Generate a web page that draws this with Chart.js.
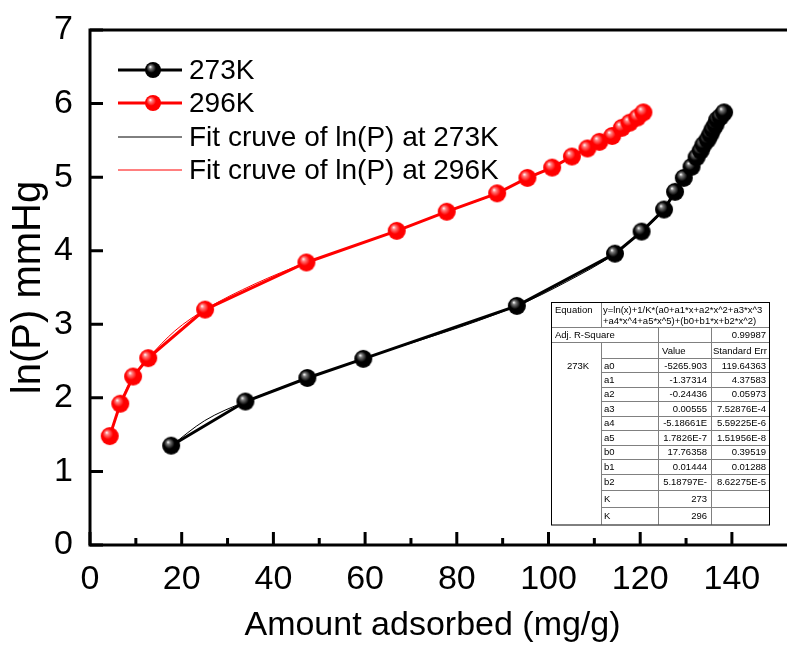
<!DOCTYPE html>
<html>
<head>
<meta charset="utf-8">
<script src="https://cdn.jsdelivr.net/npm/chart.js@4.4.1/dist/chart.umd.min.js"></script>
<style>
  html, body { margin: 0; padding: 0; background: #fff; }
  #wrap { width: 787px; height: 646px; }
</style>
</head>
<body>
<div id="wrap"><canvas id="grafico" width="787" height="646"></canvas></div>
<script>
// Medidas a 273K
const x273 = [17.7, 33.9, 47.4, 59.6, 93.1, 114.5, 120.3, 125.2, 127.6, 129.5, 131.2, 132.3, 133.2, 133.8, 134.7, 135.3, 135.8, 136.4, 136.8, 137.5, 138.3];
const y273 = [1.35, 1.95, 2.27, 2.53, 3.25, 3.96, 4.26, 4.56, 4.80, 4.99, 5.14, 5.27, 5.36, 5.44, 5.51, 5.58, 5.65, 5.71, 5.78, 5.82, 5.88];
// Medidas a 296K
const x296 = [4.3, 6.6, 9.4, 12.7, 25.1, 47.2, 66.9, 77.8, 88.8, 95.4, 100.8, 105.1, 108.5, 111.1, 113.9, 116.0, 117.7, 119.4, 120.7];
const y296 = [1.48, 1.92, 2.29, 2.54, 3.20, 3.84, 4.27, 4.53, 4.78, 4.99, 5.13, 5.28, 5.39, 5.48, 5.56, 5.67, 5.74, 5.81, 5.88];
// Curvas de ajuste
const fitX273 = [17.7, 25.0, 33.9, 47.4, 59.6, 93.1, 104.0, 114.5, 120.3, 125.2, 127.6, 129.5, 131.2, 132.3, 133.2, 133.8, 134.7, 135.3, 135.8, 136.4, 136.8, 137.5, 138.3];
const fitY273 = [1.35, 1.69, 1.95, 2.27, 2.53, 3.25, 3.58, 3.96, 4.26, 4.56, 4.80, 4.99, 5.14, 5.27, 5.36, 5.44, 5.51, 5.58, 5.65, 5.71, 5.78, 5.82, 5.88];
const fitX296 = [4.3, 6.6, 9.4, 12.7, 18.5, 25.1, 36.0, 47.2, 66.9, 77.8, 88.8, 95.4, 100.8, 105.1, 108.5, 111.1, 113.9, 116.0, 117.7, 119.4, 120.7];
const fitY296 = [1.48, 1.92, 2.29, 2.54, 2.91, 3.20, 3.55, 3.84, 4.27, 4.53, 4.78, 4.99, 5.13, 5.28, 5.39, 5.48, 5.56, 5.67, 5.74, 5.81, 5.88];

const xTicks = [0, 20, 40, 60, 80, 100, 120, 140];
const xMinorTicks = [10, 30, 50, 70, 90, 110, 130];
const yTicks = [0, 1, 2, 3, 4, 5, 6, 7];

const legendLabels = ['273K', '296K', 'Fit cruve of ln(P) at 273K', 'Fit cruve of ln(P) at 296K'];

const equacao = ['y=ln(x)+1/K*(a0+a1*x+a2*x^2+a3*x^3', '+a4*x^4+a5*x^5)+(b0+b1*x+b2*x^2)'];
const tabelaLinhas = [
  ['Adj. R-Square', '', '', '0.99987'],
  ['', '', 'Value', 'Standard Err'],
  ['273K', 'a0', '-5265.903', '119.64363'],
  ['', 'a1', '-1.37314', '4.37583'],
  ['', 'a2', '-0.24436', '0.05973'],
  ['', 'a3', '0.00555', '7.52876E-4'],
  ['', 'a4', '-5.18661E', '5.59225E-6'],
  ['', 'a5', '1.7826E-7', '1.51956E-8'],
  ['', 'b0', '17.76358', '0.39519'],
  ['', 'b1', '0.01444', '0.01288'],
  ['', 'b2', '5.18797E-', '8.62275E-5'],
  ['', 'K', '273', ''],
  ['', 'K', '296', '']
];

const FONTE = '"Liberation Sans", Arial, sans-serif';

// bolinhas com brilho, como no Origin
function fazBola(cor, meio, brilho, r) {
  const c = document.createElement('canvas');
  c.width = c.height = 2 * r + 2;
  const g = c.getContext('2d');
  const cx = r + 1, cy = r + 1;
  const grad = g.createRadialGradient(cx - r * 0.35, cy - r * 0.4, 0.2, cx - r * 0.1, cy - r * 0.1, r * 1.05);
  grad.addColorStop(0, brilho);
  grad.addColorStop(0.18, meio);
  grad.addColorStop(0.55, cor);
  grad.addColorStop(1, cor);
  g.fillStyle = grad;
  g.beginPath();
  g.arc(cx, cy, r, 0, Math.PI * 2);
  g.fill();
  return c;
}
const bolaPreta = fazBola('#000000', '#7a7a7a', '#ffffff', 9);
const bolaVermelha = fazBola('#ff0000', '#ff8080', '#ffffff', 9);
const bolaPretaLeg = fazBola('#000000', '#7a7a7a', '#ffffff', 8);
const bolaVermelhaLeg = fazBola('#ff0000', '#ff8080', '#ffffff', 8);

const pares = (xs, ys) => xs.map((x, i) => ({ x, y: ys[i] }));

// moldura, ticks para dentro, legenda e tabela
const extras = {
  id: 'extras',
  afterDraw(chart) {
    const ctx = chart.ctx;
    const a = chart.chartArea;
    const sx = chart.scales.x, sy = chart.scales.y;
    ctx.save();
    ctx.strokeStyle = '#000';
    ctx.lineWidth = 3;
    ctx.lineCap = 'square';
    ctx.beginPath();
    ctx.moveTo(a.left, a.top); ctx.lineTo(787, a.top);
    ctx.moveTo(a.left, a.top); ctx.lineTo(a.left, a.bottom);
    ctx.lineTo(787, a.bottom);
    ctx.stroke();
    ctx.lineCap = 'butt';
    ctx.beginPath();
    xTicks.forEach(v => { const p = sx.getPixelForValue(v); ctx.moveTo(p, a.bottom); ctx.lineTo(p, a.bottom - 13); });
    xMinorTicks.forEach(v => { const p = sx.getPixelForValue(v); ctx.moveTo(p, a.bottom); ctx.lineTo(p, a.bottom - 7); });
    yTicks.forEach(v => { const p = sy.getPixelForValue(v); ctx.moveTo(a.left, p); ctx.lineTo(a.left + 13, p); });
    ctx.stroke();

    // legenda
    const linhasY = [70, 103, 137, 170];
    ctx.font = '28px ' + FONTE;
    ctx.textBaseline = 'middle';
    ctx.fillStyle = '#000';
    linhasY.forEach((y, i) => {
      ctx.strokeStyle = i % 2 === 0 ? '#000' : '#ff0000';
      ctx.lineWidth = i < 2 ? 3 : 1;
      ctx.beginPath();
      ctx.moveTo(118, y); ctx.lineTo(182, y);
      ctx.stroke();
      if (i < 2) {
        const b = i === 0 ? bolaPretaLeg : bolaVermelhaLeg;
        ctx.drawImage(b, 153 - b.width / 2, y - b.height / 2);
      }
      ctx.fillText(legendLabels[i], 189, y + 1);
    });

    // tabela do ajuste
    const cols = [551, 601, 658, 711, 769];
    const topo = 302, fimEq = 327;
    const alturas = [15, 16, 14, 14.5, 14.5, 14.5, 14.5, 14.5, 14.5, 14.5, 16, 17, 18];
    const ys = [fimEq];
    alturas.forEach(h => ys.push(ys[ys.length - 1] + h));
    const base = ys[ys.length - 1];

    ctx.fillStyle = '#fff';
    ctx.fillRect(cols[0], topo, cols[4] - cols[0], base - topo);

    ctx.lineWidth = 1;
    ctx.strokeStyle = '#808080';
    ctx.beginPath();
    // horizontais
    ctx.moveTo(cols[0], fimEq + 0.5); ctx.lineTo(cols[4], fimEq + 0.5);
    ctx.moveTo(cols[0], ys[1] + 0.5); ctx.lineTo(cols[4], ys[1] + 0.5);
    for (let i = 2; i < ys.length - 1; i++) {
      ctx.moveTo(cols[1], Math.round(ys[i]) + 0.5); ctx.lineTo(cols[4], Math.round(ys[i]) + 0.5);
    }
    // verticais
    ctx.moveTo(cols[1] + 0.5, topo); ctx.lineTo(cols[1] + 0.5, fimEq);
    ctx.moveTo(cols[1] + 0.5, ys[1]); ctx.lineTo(cols[1] + 0.5, base);
    ctx.moveTo(cols[2] + 0.5, fimEq); ctx.lineTo(cols[2] + 0.5, base);
    ctx.moveTo(cols[3] + 0.5, fimEq); ctx.lineTo(cols[3] + 0.5, base);
    ctx.stroke();

    ctx.strokeStyle = '#000';
    ctx.strokeRect(cols[0] + 0.5, topo + 0.5, cols[4] - cols[0], base - topo);

    ctx.fillStyle = '#000';
    ctx.font = '9.5px ' + FONTE;
    ctx.textBaseline = 'middle';
    ctx.textAlign = 'left';
    ctx.fillText('Equation', 555, topo + 8);
    ctx.save();
    ctx.beginPath();
    ctx.rect(cols[1], topo, cols[4] - cols[1], fimEq - topo);
    ctx.clip();
    ctx.fillText(equacao[0], cols[1] + 2, topo + 8);
    ctx.fillText(equacao[1], cols[1] + 2, topo + 19);
    ctx.restore();

    tabelaLinhas.forEach((l, i) => {
      const yc = (ys[i] + ys[i + 1]) / 2 + 1;
      ctx.save();
      ctx.beginPath();
      ctx.rect(cols[0], ys[i], cols[4] - cols[0], ys[i + 1] - ys[i]);
      ctx.clip();
      ctx.textAlign = 'left';
      if (i === 0) {
        ctx.fillText(l[0], 555, yc);
      } else if (l[0]) {
        ctx.textAlign = 'center';
        ctx.fillText(l[0], 578, yc);
      }
      ctx.textAlign = 'left';
      if (l[1]) ctx.fillText(l[1], cols[1] + 3, yc);
      if (i === 1) {
        ctx.fillText(l[2], cols[2] + 4, yc);
        ctx.fillText(l[3], cols[3] + 2, yc);
      } else {
        ctx.textAlign = 'right';
        if (l[2]) ctx.fillText(l[2], cols[3] - 4, yc);
        if (l[3]) ctx.fillText(l[3], cols[4] - 3, yc);
      }
      ctx.restore();
    });
    ctx.restore();
  }
};

new Chart(document.getElementById('grafico'), {
  type: 'line',
  data: {
    datasets: [
      {
        label: legendLabels[0],
        data: pares(x273, y273),
        borderColor: '#000', borderWidth: 3,
        pointStyle: bolaPreta, pointRadius: 9,
        tension: 0
      },
      {
        label: legendLabels[1],
        data: pares(x296, y296),
        borderColor: '#ff0000', borderWidth: 3,
        pointStyle: bolaVermelha, pointRadius: 9,
        tension: 0
      },
      {
        label: legendLabels[2],
        data: pares(fitX273, fitY273),
        borderColor: '#000', borderWidth: 1,
        pointRadius: 0, cubicInterpolationMode: 'monotone'
      },
      {
        label: legendLabels[3],
        data: pares(fitX296, fitY296),
        borderColor: '#ff0000', borderWidth: 1,
        pointRadius: 0, cubicInterpolationMode: 'monotone'
      }
    ]
  },
  options: {
    responsive: false,
    animation: false,
    layout: { padding: { top: 30, right: 0, left: 0, bottom: 0 } },
    plugins: { legend: { display: false }, tooltip: { enabled: false } },
    scales: {
      x: {
        type: 'linear', min: 0, max: 149.4,
        afterBuildTicks: s => { s.ticks = xTicks.map(v => ({ value: v })); },
        afterFit: s => { s.height = 101; },
        grid: { display: false }, border: { display: false },
        ticks: { color: '#000', font: { family: FONTE, size: 34 }, padding: 6, maxRotation: 0, autoSkip: false },
        title: { display: true, text: 'Amount adsorbed (mg/g)', color: '#000', font: { family: FONTE, size: 34 }, padding: { top: 0, bottom: 0 } }
      },
      y: {
        type: 'linear', min: 0, max: 7,
        afterBuildTicks: s => { s.ticks = yTicks.map(v => ({ value: v })); },
        afterFit: s => { s.width = 90; },
        grid: { display: false }, border: { display: false },
        ticks: { color: '#000', font: { family: FONTE, size: 34 }, padding: 9, autoSkip: false },
        title: { display: true, text: 'ln(P) mmHg', color: '#000', font: { family: FONTE, size: 40 }, padding: { top: 5, bottom: 0 } }
      }
    }
  },
  plugins: [extras]
});
</script>
</body>
</html>
